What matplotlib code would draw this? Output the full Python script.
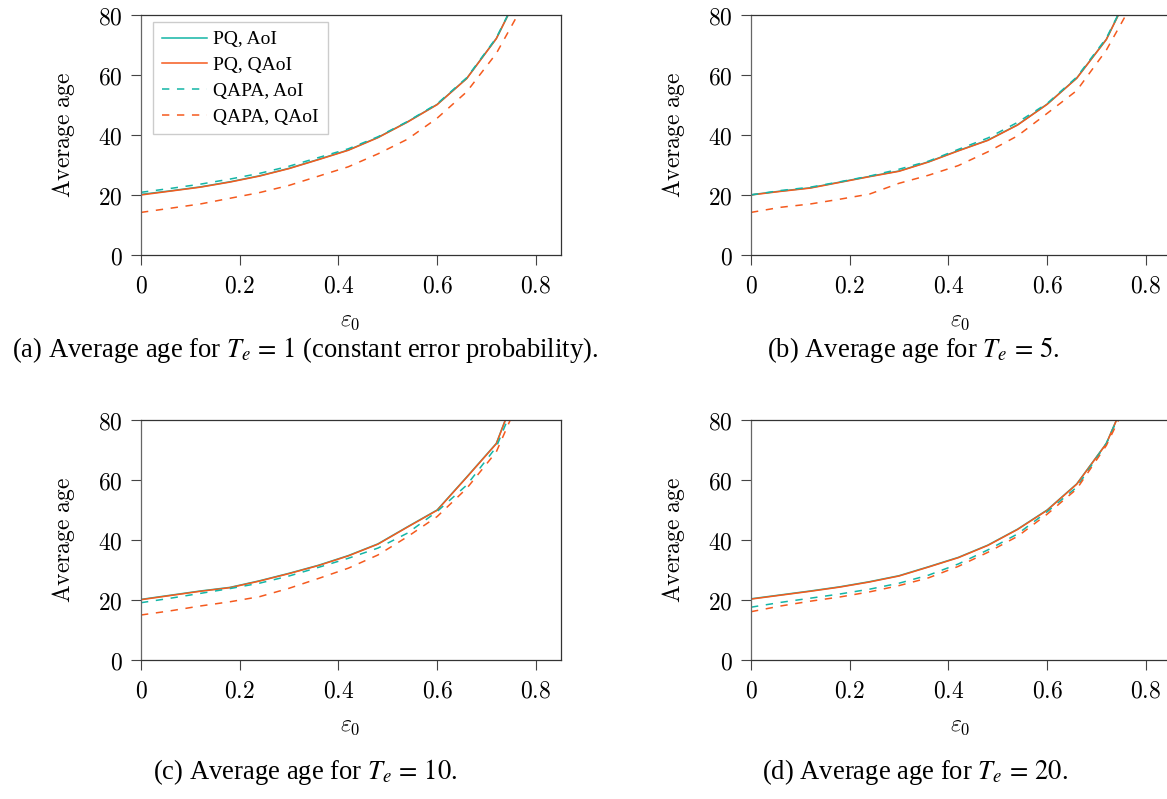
import numpy as np
import matplotlib
matplotlib.use("Agg")
import matplotlib.pyplot as plt

# error probability grid
eps = [0.0, 0.06, 0.12, 0.18, 0.24, 0.30, 0.36, 0.42, 0.48, 0.54, 0.60, 0.66, 0.72, 0.78]

# (a) Te = 1
a_pq_aoi    = [20.2, 21.4, 22.7, 24.4, 26.4, 28.9, 31.9, 35.0, 39.2, 44.4, 50.2, 58.9, 72.2, 92.0]
a_pq_qaoi   = [20.0, 21.3, 22.6, 24.3, 26.3, 28.8, 31.8, 34.9, 39.1, 44.3, 50.1, 58.8, 72.1, 92.0]
a_qapa_aoi  = [20.9, 22.2, 23.6, 25.3, 27.2, 29.6, 32.5, 35.4, 39.4, 44.5, 50.4, 59.1, 72.4, 92.0]
a_qapa_qaoi = [14.2, 15.6, 17.0, 18.9, 20.8, 23.2, 26.3, 29.4, 33.7, 38.6, 45.6, 54.4, 67.2, 85.0]

# (b) Te = 5
b_pq_aoi    = [20.1, 21.3, 22.4, 24.3, 26.2, 28.0, 31.1, 34.8, 38.3, 43.4, 50.3, 59.0, 71.9, 92.0]
b_pq_qaoi   = [20.0, 21.2, 22.3, 24.2, 26.1, 27.9, 31.0, 34.7, 38.2, 43.3, 50.2, 58.9, 71.8, 92.0]
b_qapa_aoi  = [20.0, 21.5, 22.6, 24.4, 26.3, 28.6, 31.3, 35.2, 39.0, 44.2, 50.5, 59.3, 72.3, 92.0]
b_qapa_qaoi = [14.2, 15.9, 17.0, 18.6, 20.3, 23.9, 26.6, 29.8, 34.4, 39.7, 47.2, 54.8, 68.3, 86.0]

# (c) Te = 10
c_pq_aoi    = [20.2, 21.6, 23.0, 24.2, 26.4, 28.9, 31.6, 34.8, 38.7, 44.4, 50.0, 61.0, 72.2, 98.0]
c_pq_qaoi   = [20.1, 21.5, 22.9, 24.1, 26.3, 28.8, 31.5, 34.7, 38.6, 44.3, 49.9, 60.9, 72.1, 98.0]
c_qapa_aoi  = [19.1, 20.6, 22.2, 23.8, 25.6, 28.0, 30.9, 33.9, 37.3, 42.3, 49.5, 58.3, 71.0, 95.0]
c_qapa_qaoi = [15.0, 16.4, 18.0, 19.4, 21.1, 23.9, 27.2, 30.6, 35.0, 41.1, 47.8, 57.2, 69.4, 92.0]

# (d) Te = 20
d_pq_aoi    = [20.4, 21.7, 23.0, 24.4, 26.1, 28.1, 31.1, 34.2, 38.3, 43.6, 50.0, 58.7, 72.2, 95.0]
d_pq_qaoi   = [20.3, 21.6, 22.9, 24.3, 26.0, 28.0, 31.0, 34.1, 38.2, 43.5, 49.9, 58.6, 72.1, 95.0]
d_qapa_aoi  = [17.6, 19.2, 20.6, 22.0, 23.6, 25.6, 28.3, 32.0, 36.7, 42.0, 49.4, 57.6, 72.2, 94.0]
d_qapa_qaoi = [16.1, 18.0, 19.6, 21.0, 22.7, 24.8, 27.4, 31.2, 35.9, 41.2, 48.6, 57.0, 71.5, 92.0]

panels = [
    (a_pq_aoi, a_pq_qaoi, a_qapa_aoi, a_qapa_qaoi),
    (b_pq_aoi, b_pq_qaoi, b_qapa_aoi, b_qapa_qaoi),
    (c_pq_aoi, c_pq_qaoi, c_qapa_aoi, c_qapa_qaoi),
    (d_pq_aoi, d_pq_qaoi, d_qapa_aoi, d_qapa_qaoi),
]
captions = [
    r"(a) Average age for $T_e\,=\,1$ (constant error probability).",
    r"(b) Average age for $T_e\,=\,5$.",
    r"(c) Average age for $T_e\,=\,10$.",
    r"(d) Average age for $T_e\,=\,20$.",
]
labels = ["PQ, AoI", "PQ, QAoI", "QAPA, AoI", "QAPA, QAoI"]
xticks = [0, 0.2, 0.4, 0.6, 0.8]
xticklabels = ["0", "0.2", "0.4", "0.6", "0.8"]
yticks = [0, 20, 40, 60, 80]

teal = "#14b5a6"
orange = "#f55a1e"
colors = [teal, orange, teal, orange]
dashed = [False, False, True, True]

plt.rcParams["mathtext.fontset"] = "cm"
serif = "Liberation Serif"

W, H = 1167, 799
fig = plt.figure(figsize=(W / 100, H / 100), dpi=100)

# axes boxes in pixels: left, top
boxes = [(141, 15), (751, 15), (141, 420), (751, 420)]
ax_w, ax_h = 419.5, 240
cap_pos = [(305, 350), (913, 350), (305, 772), (915, 772)]

for k, (series, (lx, ty)) in enumerate(zip(panels, boxes)):
    ax = fig.add_axes([lx / W, 1 - (ty + ax_h) / H, ax_w / W, ax_h / H])
    for s, c, d, lab in zip(series, colors, dashed, labels):
        ln, = ax.plot(eps, s, color=c, lw=1.1, label=lab)
        if d:
            ln.set_dashes((4.8, 5))
    ax.set_xlim(0, 0.85)
    ax.set_ylim(0, 80)
    ax.set_xticks(xticks)
    ax.set_xticklabels(["$%s$" % t for t in xticklabels])
    ax.set_yticks(yticks)
    ax.set_yticklabels(["$%d$" % t for t in yticks])
    ax.tick_params(direction="out", length=7, width=0.8, labelsize=17, pad=6,
                   color="#444444")
    for sp in ax.spines.values():
        sp.set_color("#333333")
        sp.set_linewidth(0.9)
    ax.spines["left"].set_color("#666666")
    ax.set_ylabel(r"$\mathrm{Average\ age}$", fontsize=17, labelpad=15)
    ax.set_xlabel(r"$\varepsilon_0$", fontsize=17, labelpad=8)
    if k == 0:
        leg = ax.legend(loc="upper left", bbox_to_anchor=(0.029, 0.971),
                        borderaxespad=0,
                        prop={"family": serif, "size": 14}, fancybox=False,
                        handlelength=2.3, handletextpad=0.35, borderpad=0.45,
                        labelspacing=0.42, framealpha=1)
        leg.get_frame().set_edgecolor("#cccccc")
        leg.get_frame().set_linewidth(1.0)
    cx, cy = cap_pos[k]
    fig.text(cx / W, 1 - cy / H, captions[k], ha="center", va="center",
             family=serif, fontsize=19.2, math_fontfamily="stix")

fig.savefig("out.png", dpi=100)
